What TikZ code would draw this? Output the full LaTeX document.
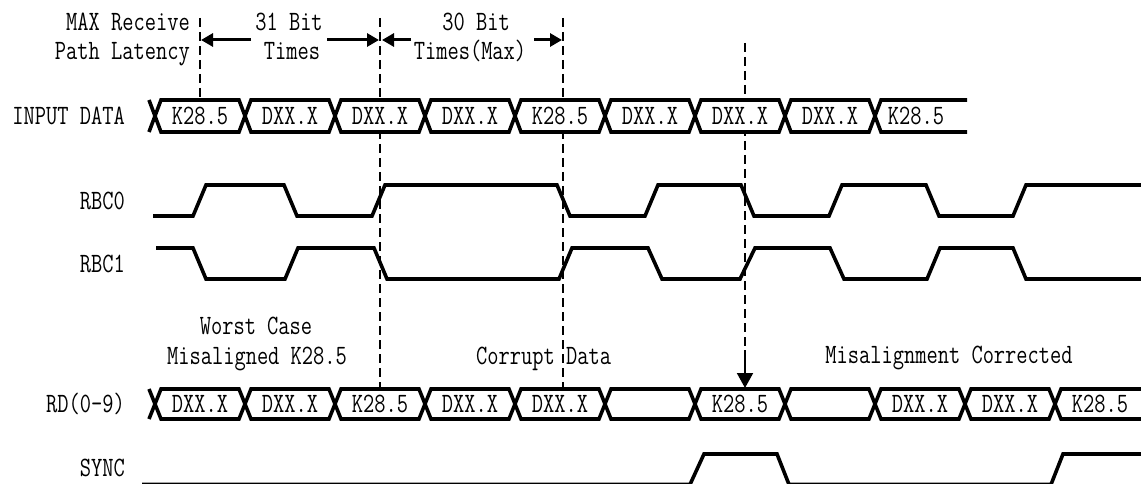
\documentclass[tikz,border=0pt]{standalone}
\usepackage{fontspec}
\setmainfont{Latin Modern Mono}[FakeStretch=0.78]
\usetikzlibrary{arrows.meta}
\begin{document}
\begin{tikzpicture}[x=1pt,y=-1pt,
  sig/.style={line width=3.6pt, line join=miter},
  bus/.style={line width=3.6pt, fill=white, line join=miter},
  guide/.style={line width=2pt, dash pattern=on 9pt off 5pt},
  lbl/.style={inner sep=0pt, font=\fontsize{28}{28}\selectfont, text height=17pt, text depth=0pt},
  dimarrow/.style={line width=3pt, -{Triangle[length=12pt,width=13pt]}},
]
\useasboundingbox (0,0) rectangle (1141,484);

% guide lines
\coordinate (g1t) at (200,18);  \coordinate (g1b) at (200,100);
\coordinate (g2t) at (380,18);  \coordinate (g2b) at (380,387);
\coordinate (g3t) at (563,18);  \coordinate (g3b) at (563,387);
\coordinate (g4t) at (745,43);  \coordinate (g4m) at (745,350);
\coordinate (g4b) at (745,388);
\draw[guide] (g1t) -- (g1b);
\draw[guide] (g2t) -- (g2b);
\draw[guide] (g3t) -- (g3b);
\draw[guide] (g4t) -- (g4m);
\draw[line width=2pt, -{Triangle[length=15pt,width=16pt]}] (g4m) -- (g4b);

% header texts and dimension arrows
\node[lbl, anchor=east] (maxrx) at (190,22) {MAX Receive};
\node[lbl, anchor=east] (pathlat) at (190,51) {Path Latency};
\node[lbl] (b31a) at (289,22) {31 Bit};
\node[lbl] (b31b) at (292,51) {Times};
\node[lbl] (b30a) at (476,22) {30 Bit};
\node[lbl] (b30b) at (470,51) {Times(Max)};
\coordinate (d1s) at (251,40); \coordinate (d1e) at (201,40);
\coordinate (d2s) at (327,40); \coordinate (d2e) at (379,40);
\coordinate (d3s) at (411,40); \coordinate (d3e) at (382,40);
\coordinate (d4s) at (534,40); \coordinate (d4e) at (562,40);
\draw[dimarrow] (d1s) -- (d1e);
\draw[dimarrow] (d2s) -- (d2e);
\draw[dimarrow] (d3s) -- (d3e);
\draw[dimarrow] (d4s) -- (d4e);

% signal names
\node[lbl, anchor=east] (nin) at (125,116) {INPUT DATA};
\node[lbl, anchor=east] (nrbc0) at (125,201) {RBC0};
\node[lbl, anchor=east] (nrbc1) at (125,264) {RBC1};
\node[lbl, anchor=east] (nrd) at (125,404) {RD(0–9)};
\node[lbl, anchor=east] (nsync) at (125,468) {SYNC};

% INPUT DATA bus
\draw[sig] (149,100) -- (155,116) -- (149,132);
\foreach \a/\b in {155/245,245/335,335/425,425/515,515/605,605/695,695/785,785/875}
  \draw[bus] (\a,116) -- (\a+6,100) -- (\b-6,100) -- (\b,116) -- (\b-6,132) -- (\a+6,132) -- cycle;
\draw[bus] (967,100) -- (881,100) -- (875,116) -- (881,132) -- (967,132);
\node[lbl] (in1) at (200,116) {K28.5};
\node[lbl] (in2) at (290,116) {DXX.X};
\node[lbl] (in3) at (380,116) {DXX.X};
\node[lbl] (in4) at (470,116) {DXX.X};
\node[lbl] (in5) at (560,116) {K28.5};
\node[lbl] (in6) at (650,116) {DXX.X};
\node[lbl] (in7) at (740,116) {DXX.X};
\node[lbl] (in8) at (830,116) {DXX.X};
\node[lbl] (in9) at (916,116) {K28.5};

% RBC0 / RBC1
\draw[sig] (153,216) -- (193,216) -- (206,185) -- (284,185) -- (297,216) -- (372,216)
  -- (385,185) -- (557,185) -- (570,216) -- (645,216) -- (658,185) -- (741,185)
  -- (754,216) -- (829,216) -- (842,185) -- (926,185) -- (939,216) -- (1013,216)
  -- (1026,185) -- (1145,185);
\draw[sig] (156,248) -- (193,248) -- (206,279) -- (285,279) -- (298,248) -- (374,248)
  -- (387,279) -- (559,279) -- (572,248) -- (648,248) -- (662,279) -- (740,279)
  -- (755,248) -- (830,248) -- (844,279) -- (927,279) -- (940,248) -- (1013,248)
  -- (1026,279) -- (1145,279);

% annotations
\node[lbl] (worst) at (256,326) {Worst Case};
\node[lbl] (misal) at (257,356) {Misaligned K28.5};
\node[lbl, anchor=west] (corrupt) at (476,356) {Corrupt Data};
\node[lbl] (corrected) at (949,355) {Misalignment Corrected};

% RD(0-9) bus
\draw[sig] (149,389) -- (155,404) -- (149,419);
\foreach \a/\b in {155/245,245/335,335/425,425/515,515/605,605/695,695/785,785/875,875/965,965/1055}
  \draw[bus] (\a,404) -- (\a+6,389) -- (\b-6,389) -- (\b,404) -- (\b-6,419) -- (\a+6,419) -- cycle;
\draw[bus] (1150,389) -- (1061,389) -- (1055,404) -- (1061,419) -- (1150,419);
\node[lbl] (rd1) at (200,404) {DXX.X};
\node[lbl] (rd2) at (290,404) {DXX.X};
\node[lbl] (rd3) at (380,404) {K28.5};
\node[lbl] (rd4) at (470,404) {DXX.X};
\node[lbl] (rd5) at (560,404) {DXX.X};
\node[lbl] (rd7) at (740,404) {K28.5};
\node[lbl] (rd9) at (920,404) {DXX.X};
\node[lbl] (rd10) at (1010,404) {DXX.X};
\node[lbl] (rd11) at (1100,404) {K28.5};

% SYNC
\draw[sig] (142,484.5) -- (690,484.5) -- (704,454) -- (777,454) -- (789,484.5)
  -- (1051,484.5) -- (1063,454) -- (1145,454);
\end{tikzpicture}
\end{document}
